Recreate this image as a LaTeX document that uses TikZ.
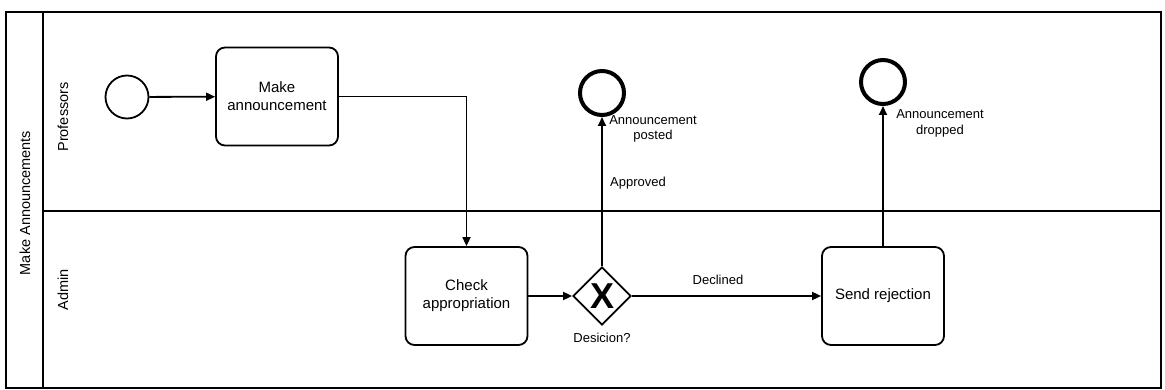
\documentclass[tikz,border=0pt]{standalone}
\usepackage{fontspec}
\setmainfont{Liberation Sans}
\usetikzlibrary{shapes.geometric,arrows.meta}
\begin{document}
\begin{tikzpicture}[x=1pt,y=-1pt,line width=1.8pt,
  >={Triangle[length=9pt,width=8pt]},
  task/.style={draw,rounded corners=9pt,line width=1.8pt,minimum width=122pt,minimum height=98pt,align=center,font=\fontsize{15}{18}\selectfont},
  startev/.style={draw,circle,line width=1.8pt,minimum size=43pt,inner sep=0pt},
  endev/.style={draw,circle,line width=4pt,minimum size=44pt,inner sep=0pt},
  gateway/.style={draw,diamond,line width=1.8pt,minimum width=58pt,minimum height=58pt,inner sep=0pt,font=\fontsize{36}{36}\selectfont\bfseries},
  note/.style={font=\fontsize{13}{15.5}\selectfont,align=center},
  lane/.style={rotate=90,font=\fontsize{14.5}{17}\selectfont}]
\useasboundingbox (0,0) rectangle (1165,390);
\draw[line width=1.8pt] (6,12) rectangle (1161,388);
\draw[line width=1.8pt] (43,12)--(43,388);
\draw[line width=1.8pt] (43,211)--(1161,211);
\node[lane] (pool) at (25,203) {Make Announcements};
\node[lane] (profs) at (63,117) {Professors};
\node[lane] (admin) at (63,290) {Admin};
\node[startev] (start) at (127,97) {};
\node[task] (make) at (277,96.5) {Make\\announcement};
\node[task] (check) at (466.5,296) {Check\\appropriation};
\node[gateway] (gw) at (602,296) {X};
\node[note] (gwlbl) at (602,338) {Desicion?};
\node[endev] (posted) at (602,93) {};
\node[note] (postedlbl) at (653,129) {Announcement\\posted};
\node[note,anchor=west] (approved) at (606,183) {Approved};
\node[task] (reject) at (883,296) {Send rejection};
\node[note] (declined) at (718,280) {Declined};
\node[endev] (dropped) at (883,82) {};
\node[note] (droppedlbl) at (940,123.5) {Announcement\\dropped};
\draw[->] (start)--(make);
\draw[->] (make.east)-|(check.north);
\draw[->] (check)--(gw);
\draw[->] (gw)--(posted);
\draw[->] (gw)--(reject);
\draw[->] (reject)--(dropped);
\end{tikzpicture}
\end{document}
